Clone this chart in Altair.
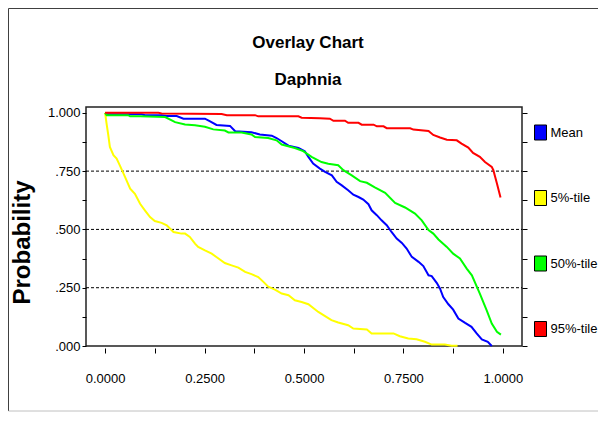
import altair as alt
import pandas as pd

# ---------------- data ----------------
series_names = ["Mean", "5%-tile", "50%-tile", "95%-tile"]
series_colors = ["#0000ff", "#ffff00", "#00ff00", "#ff0000"]

mean_x = [0, 0.004, 0.092, 0.100, 0.142, 0.155, 0.180, 0.197, 0.251, 0.264, 0.280, 0.314, 0.327,
          0.368, 0.389, 0.419, 0.431, 0.444, 0.461, 0.486, 0.502, 0.511, 0.523, 0.540, 0.553,
          0.570, 0.582, 0.595, 0.611, 0.624, 0.637, 0.649, 0.662, 0.670, 0.683, 0.695, 0.708,
          0.720, 0.733, 0.746, 0.758, 0.771, 0.788, 0.800, 0.813, 0.821, 0.834, 0.842, 0.850,
          0.863, 0.875, 0.888, 0.905, 0.921, 0.934, 0.947, 0.962, 0.972]
mean_y = [1.0, 0.994, 0.994, 0.990, 0.990, 0.986, 0.986, 0.975, 0.975, 0.963, 0.948, 0.944, 0.921,
          0.917, 0.907, 0.902, 0.892, 0.878, 0.859, 0.849, 0.835, 0.811, 0.782, 0.761, 0.747,
          0.732, 0.704, 0.689, 0.668, 0.649, 0.639, 0.628, 0.608, 0.582, 0.561, 0.539, 0.518,
          0.489, 0.461, 0.442, 0.418, 0.382, 0.361, 0.343, 0.303, 0.300, 0.270, 0.246, 0.210,
          0.179, 0.156, 0.118, 0.099, 0.082, 0.054, 0.028, 0.018, 0.0]

p05_x = [0, 0.004, 0.008, 0.012, 0.021, 0.029, 0.037, 0.050, 0.063, 0.075, 0.088, 0.100, 0.113,
         0.125, 0.142, 0.155, 0.172, 0.192, 0.201, 0.213, 0.226, 0.234, 0.251, 0.268, 0.285,
         0.301, 0.318, 0.335, 0.352, 0.368, 0.385, 0.398, 0.410, 0.427, 0.444, 0.461, 0.477,
         0.494, 0.511, 0.536, 0.553, 0.569, 0.586, 0.611, 0.624, 0.658, 0.670, 0.725, 0.741,
         0.762, 0.783, 0.804, 0.821, 0.854, 0.871, 0.886]
p05_y = [1.0, 0.950, 0.905, 0.854, 0.818, 0.804, 0.775, 0.725, 0.675, 0.653, 0.610, 0.582, 0.553,
         0.536, 0.528, 0.518, 0.489, 0.482, 0.482, 0.468, 0.439, 0.425, 0.410, 0.396, 0.375,
         0.356, 0.346, 0.336, 0.318, 0.308, 0.296, 0.275, 0.254, 0.242, 0.225, 0.218, 0.196,
         0.189, 0.179, 0.146, 0.128, 0.111, 0.101, 0.089, 0.075, 0.071, 0.054, 0.054, 0.042,
         0.032, 0.029, 0.018, 0.006, 0.006, 0.001, 0.001]

p50_x = [0, 0.004, 0.058, 0.063, 0.088, 0.151, 0.176, 0.201, 0.226, 0.251, 0.272, 0.301, 0.310,
         0.343, 0.368, 0.377, 0.410, 0.431, 0.444, 0.477, 0.498, 0.519, 0.544, 0.561, 0.586,
         0.599, 0.620, 0.641, 0.658, 0.678, 0.704, 0.729, 0.754, 0.779, 0.796, 0.813, 0.825,
         0.838, 0.859, 0.875, 0.892, 0.909, 0.922, 0.942, 0.959, 0.972, 0.985, 0.995]
p50_y = [1.0, 0.990, 0.990, 0.985, 0.985, 0.982, 0.960, 0.950, 0.947, 0.940, 0.929, 0.924, 0.916,
         0.916, 0.907, 0.896, 0.892, 0.882, 0.864, 0.849, 0.836, 0.811, 0.789, 0.782, 0.775,
         0.754, 0.732, 0.707, 0.700, 0.680, 0.657, 0.614, 0.594, 0.568, 0.539, 0.497, 0.482,
         0.457, 0.425, 0.396, 0.375, 0.332, 0.303, 0.225, 0.154, 0.096, 0.061, 0.049]

p95_x = [0, 0.134, 0.142, 0.293, 0.306, 0.377, 0.385, 0.486, 0.494, 0.540, 0.565, 0.574, 0.603,
         0.611, 0.637, 0.645, 0.675, 0.683, 0.700, 0.708, 0.767, 0.775, 0.813, 0.825, 0.842,
         0.859, 0.884, 0.896, 0.913, 0.925, 0.942, 0.955, 0.972, 0.976, 0.985, 0.994]
p95_y = [1.0, 1.0, 0.997, 0.995, 0.990, 0.990, 0.985, 0.985, 0.979, 0.977, 0.975, 0.966, 0.966,
         0.957, 0.957, 0.949, 0.949, 0.942, 0.942, 0.934, 0.934, 0.928, 0.922, 0.905, 0.894,
         0.885, 0.882, 0.868, 0.851, 0.828, 0.811, 0.789, 0.768, 0.754, 0.697, 0.637]

tick_values = [0, 0.125, 0.25, 0.375, 0.5, 0.625, 0.75, 0.875, 1.0]
grid_values = [0.25, 0.5, 0.75]

# ---------------- tables ----------------
color_of = dict(zip(series_names, series_colors))
rows = []
for name, xs, ys in [("Mean", mean_x, mean_y), ("5%-tile", p05_x, p05_y),
                     ("50%-tile", p50_x, p50_y), ("95%-tile", p95_x, p95_y)]:
    for i, (xv, yv) in enumerate(zip(xs, ys)):
        rows.append({"series": name, "col": color_of[name], "x": xv, "y": yv, "i": i})
df = pd.DataFrame(rows)
grid_df = pd.DataFrame({"g": grid_values})
legend_df = pd.DataFrame({"series": series_names})
one = pd.DataFrame({"a": [0]})

FONT = "Liberation Sans"
W, H = 436, 239
xscale = alt.Scale(domain=[-0.048, 1.048], nice=False, zero=False)
yscale = alt.Scale(domain=[0, 1.025], nice=False, zero=False)
RECT = "M-0.8,-1H0.8V1H-0.8Z"

grid = alt.Chart(grid_df).mark_rule(color="black", strokeWidth=1, strokeDash=[3, 2]).encode(
    y=alt.Y("g:Q", scale=yscale,
            axis=alt.Axis(orient="right", values=tick_values, labels=False, title=None,
                          ticks=True, tickSize=5, tickColor="black", domain=False, grid=False)),
    x=alt.value(0), x2=alt.value(W),
)

lines = alt.Chart(df).mark_line(strokeWidth=2).encode(
    x=alt.X("x:Q", scale=xscale,
            axis=alt.Axis(orient="bottom", values=tick_values, title=None, offset=2,
                          tickSize=5, tickColor="black", domain=False, grid=False,
                          labelExpr="(datum.value * 4) % 1 == 0 ? format(datum.value, '.4f') : ''",
                          labelPadding=19, labelFontSize=13, labelFont=FONT, labelColor="black",
                          labelOverlap=False, labelFlush=False)),
    y=alt.Y("y:Q", scale=yscale,
            axis=alt.Axis(orient="left", values=tick_values, title="Probability",
                          tickSize=4, tickColor="black", domain=False, grid=False,
                          labelExpr="(datum.value * 4) % 1 == 0 ? replace(format(datum.value, '.3f'), '0.', '.') : ''",
                          labelPadding=2, labelFontSize=13, labelFont=FONT, labelColor="black",
                          labelOverlap=False, labelFlush=False,
                          titleFont=FONT, titleFontSize=24, titleFontWeight="bold", titleColor="black",
                          titleAngle=270, titleAlign="center", titleBaseline="middle",
                          titleX=-64, titleY=135)),
    color=alt.Color("col:N", scale=None),
    detail="series:N",
    order=alt.Order("i:Q"),
)

# legend provider: invisible points, only their legend is seen
legend_layer = alt.Chart(legend_df).mark_point(shape=RECT, filled=True, stroke="black",
                                               strokeWidth=1, opacity=0, size=225).encode(
    x=alt.value(W / 2), y=alt.value(H / 2),
    fill=alt.Fill("series:N", scale=alt.Scale(domain=series_names, range=series_colors),
                  legend=alt.Legend(
                      title=None, orient="none", legendX=446.5, legendY=17.5, padding=0,
                      symbolType=RECT, symbolSize=225, symbolStrokeColor="black",
                      symbolStrokeWidth=1, symbolOpacity=1,
                      labelFont=FONT, labelFontSize=13, labelColor="black", labelOffset=2,
                      labelLimit=0, rowPadding=45.5)),
)

frame_left = alt.Chart(one).mark_rule(color="#404040", strokeWidth=1).encode(
    x=alt.value(-77.5), y=alt.value(-98.5), y2=alt.value(304))
frame_top = alt.Chart(one).mark_rule(color="#404040", strokeWidth=1).encode(
    x=alt.value(-77.5), x2=alt.value(520), y=alt.value(-98.5))
frame_bottom = alt.Chart(one).mark_rule(color="#c0c0c0", strokeWidth=1).encode(
    x=alt.value(-77.5), x2=alt.value(520), y=alt.value(304))

chart = alt.layer(grid, lines, legend_layer, frame_left, frame_top, frame_bottom).resolve_axis(
    y="independent"
).properties(
    width=W, height=H,
    autosize=alt.AutoSizeParams(type="none"),
    padding={"left": 78, "top": 99, "right": 76, "bottom": 66},
    background="white",
    title=alt.TitleParams(
        text="Overlay Chart", subtitle="Daphnia", anchor="middle", frame="group",
        font=FONT, fontSize=17, fontWeight="bold", color="black",
        subtitleFont=FONT, subtitleFontSize=17, subtitleFontWeight="bold", subtitleColor="black",
        subtitlePadding=20, offset=-81, dx=4,
    ),
).configure_view(stroke="#222222", strokeWidth=1.5)

chart.save("out.html", embed_options={"renderer": "svg", "actions": False})
